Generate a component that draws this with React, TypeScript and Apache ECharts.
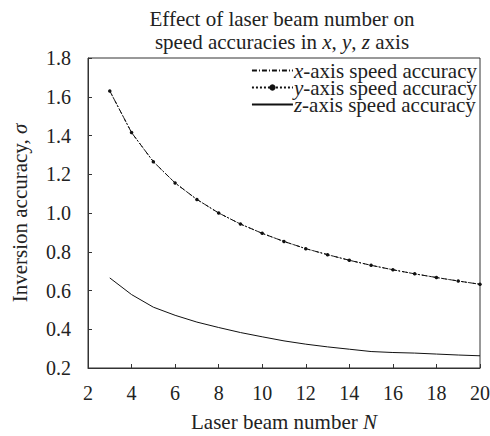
import React, { useEffect, useRef } from "react";
import * as echarts from "echarts";

const beams = [3, 4, 5, 6, 7, 8, 9, 10, 11, 12, 13, 14, 15, 16, 17, 18, 19, 20];
const xAcc = [1.63, 1.415, 1.265, 1.155, 1.07, 1.0, 0.943, 0.895, 0.853, 0.816, 0.785, 0.756, 0.73, 0.707, 0.686, 0.667, 0.649, 0.632];
const yAcc = [1.63, 1.415, 1.265, 1.155, 1.07, 1.0, 0.943, 0.895, 0.853, 0.816, 0.785, 0.756, 0.73, 0.707, 0.686, 0.667, 0.649, 0.632];
const zAcc = [0.665, 0.579, 0.514, 0.472, 0.437, 0.409, 0.383, 0.361, 0.34, 0.323, 0.309, 0.297, 0.285, 0.28, 0.277, 0.272, 0.267, 0.263];
const seriesNames = ["x", "y", "z"];

const FONT = "Liberation Serif";
const TXT = "#222";

export default function App() {
  const ref = useRef<HTMLDivElement>(null);
  useEffect(() => {
    if (!ref.current) return;
    const chart = echarts.init(ref.current, null, { renderer: "svg" });
    const rich = {
      i: { fontFamily: FONT, fontStyle: "italic", fontSize: 21, color: TXT, lineHeight: 16 },
      r: { fontFamily: FONT, fontSize: 21, color: TXT, lineHeight: 16 },
    };
    const mk = (arr: number[]) => beams.map((b, k) => [b, arr[k]]);
    chart.setOption({
      animation: false,
      textStyle: { fontFamily: FONT, color: TXT },
      title: {
        text: "{r|Effect of laser beam number on}\n{r|speed accuracies in }{i|x}{r|, }{i|y}{r|, }{i|z}{r| axis}",
        left: 282,
        textAlign: "center",
        top: 7,
        padding: 0,
        textStyle: {
          fontFamily: FONT,
          fontWeight: "normal",
          fontSize: 21,
          color: TXT,
          lineHeight: 23,
          rich: {
            i: { fontFamily: FONT, fontStyle: "italic", fontSize: 21, color: TXT, lineHeight: 23 },
            r: { fontFamily: FONT, fontSize: 21, color: TXT, lineHeight: 23 },
          },
        },
      },
      legend: {
        orient: "vertical",
        right: 13,
        top: 60,
        padding: 0,
        itemGap: -4,
        itemWidth: 41,
        itemHeight: 8,
        data: [
          { name: seriesNames[0], itemStyle: { opacity: 0 } },
          { name: seriesNames[1] },
          { name: seriesNames[2], itemStyle: { opacity: 0 } },
        ],
        formatter: (n: string) => "{i|" + n + "}{r|-axis speed accuracy}",
        textStyle: {
          fontFamily: FONT,
          fontSize: 21,
          color: TXT,
          padding: [0, 0, 0, -4],
          rich,
        },
      },
      grid: {
        left: 88,
        right: 10,
        top: 58,
        bottom: 68,
        show: true,
        borderColor: "#333",
        borderWidth: 1,
        outerBoundsMode: "none",
        containLabel: false,
      },
      xAxis: {
        type: "value",
        min: 2,
        max: 20,
        interval: 2,
        name: "{r|Laser beam number }{i|N}",
        nameLocation: "middle",
        nameGap: 46,
        nameTextStyle: { fontFamily: FONT, fontSize: 21, color: TXT, lineHeight: 16, rich },
        axisLine: { lineStyle: { color: "#333" } },
        axisTick: { inside: true, length: 4, lineStyle: { color: "#333" } },
        axisLabel: { fontFamily: FONT, fontSize: 20, color: TXT, margin: 15 },
        splitLine: { show: false },
      },
      yAxis: {
        type: "value",
        min: 0.2,
        max: 1.8,
        interval: 0.2,
        name: "{r|Inversion accuracy, }{i|σ}",
        nameLocation: "middle",
        nameGap: 60,
        nameTextStyle: { fontFamily: FONT, fontSize: 21, color: TXT, rich },
        axisLine: { show: true, lineStyle: { color: "#333" } },
        axisTick: { show: true, inside: true, length: 4, lineStyle: { color: "#333" } },
        axisLabel: {
          fontFamily: FONT,
          fontSize: 20,
          color: TXT,
          margin: 17,
          formatter: (v: number) => v.toFixed(1),
        },
        splitLine: { show: false },
      },
      series: [
        {
          name: seriesNames[0],
          type: "line",
          data: mk(xAcc),
          showSymbol: false,
          symbol: "none",
          lineStyle: { color: "#111", width: 1, type: [5, 2, 1, 2] },
          itemStyle: { color: "#111" },
        },
        {
          name: seriesNames[1],
          type: "line",
          data: mk(yAcc),
          symbol: "circle",
          symbolSize: 3.5,
          lineStyle: { color: "#111", width: 1, type: [2, 2] },
          itemStyle: { color: "#111" },
        },
        {
          name: seriesNames[2],
          type: "line",
          data: mk(zAcc),
          symbol: "none",
          lineStyle: { color: "#111", width: 1 },
          itemStyle: { color: "#111" },
        },
      ],
    });
    return () => chart.dispose();
  }, []);
  return (
    <div
      ref={ref}
      style={{ position: "absolute", left: 0, top: 0, width: 490, height: 436 }}
    />
  );
}
